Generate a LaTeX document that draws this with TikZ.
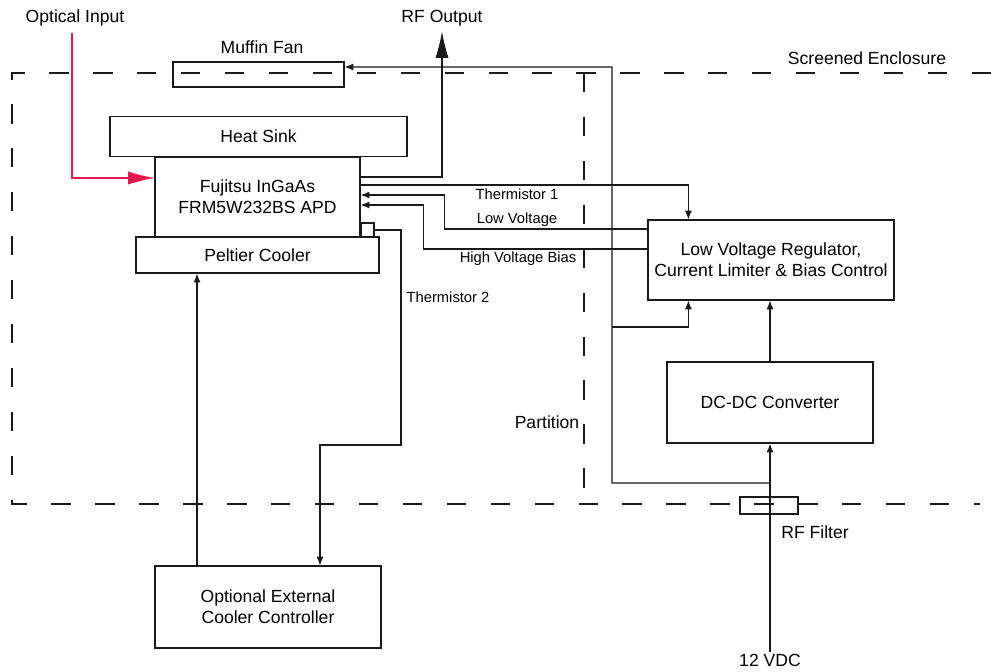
\documentclass[tikz,border=0pt]{standalone}
\usepackage{fontspec}
\setmainfont{Liberation Sans}
\usetikzlibrary{arrows.meta, positioning, calc}
\definecolor{optred}{HTML}{E5194D}
\definecolor{inkline}{HTML}{1A1A1A}
\tikzset{
  blockbox/.style={draw=inkline, line width=0.7pt, inner sep=0pt, align=center, font=\fontsize{10}{12}\selectfont},
  sig/.style={draw=inkline, line width=0.6pt, -{Latex[length=5pt, width=4pt]}},
  bigsig/.style={line width=0.6pt, -{Latex[length=15pt, width=7.5pt]}},
  lbl/.style={font=\fontsize{10}{12}\selectfont, inner sep=1pt},
  smalllbl/.style={font=\fontsize{8.4}{10}\selectfont, inner sep=1pt},
  screen/.style={draw=inkline, line width=1.7pt, dash pattern=on 11pt off 14pt},
}
\begin{document}
\begin{tikzpicture}[x=0.02cm, y=-0.02cm]
  \useasboundingbox (0,0) rectangle (991,672);

  % Screened enclosure and partition
  \draw[screen] (991,73) -- (12,73) -- (12,504) -- (980,504);
  \draw[screen] (584,73) -- (584,504);
  \node[lbl] (enclosure) at (867,58) {Screened Enclosure};
  \node[lbl] (partition) at (547,422) {Partition};

  % Blocks
  \node[blockbox, minimum width=3.42cm, minimum height=0.5cm] (fan) at (258.5,74.5) {};
  \node[lbl] (fanlbl) at (262,47) {Muffin Fan};
  \node[blockbox, minimum width=5.94cm, minimum height=0.8cm] (sink) at (258.5,136.5) {Heat Sink};
  \node[blockbox, minimum width=4.1cm, minimum height=1.6cm] (apd) at (257.5,197) {Fujitsu InGaAs\\FRM5W232BS APD};
  \node[blockbox, minimum width=4.86cm, minimum height=0.72cm] (peltier) at (257.5,255) {Peltier Cooler};
  \node[blockbox, minimum width=0.26cm, minimum height=0.28cm] (tbox) at (367.5,230) {};
  \node[blockbox, minimum width=4.52cm, minimum height=1.64cm] (ext) at (268,607) {Optional External\\Cooler Controller};
  \node[blockbox, minimum width=4.92cm, minimum height=1.6cm] (reg) at (771,260) {Low Voltage Regulator,\\Current Limiter \& Bias Control};
  \node[blockbox, minimum width=4.12cm, minimum height=1.62cm] (dcdc) at (770,402.5) {DC-DC Converter};

  % Terminals
  \node[lbl] (optin) at (75,18) {Optical Input};
  \node[lbl, inner sep=3pt] (rfout) at (442,18) {RF Output};
  \node[lbl] (vin) at (770,660) {12 VDC};
  \coordinate (oin) at (72,33);

  % Optical input and RF output
  \draw[bigsig, draw=optred] (oin) |- ([yshift=0.38cm]apd.west);
  \draw[bigsig, draw=inkline] ([yshift=0.4cm]apd.east) -| (rfout.south);

  % APD to regulator
  \draw[sig] ([yshift=0.24cm]apd.east) -| ([xshift=0.82cm]reg.north west);
  \draw[sig] ([yshift=0.62cm]reg.west) -| ([xshift=1.68cm, yshift=0.04cm]apd.east) -- ([yshift=0.04cm]apd.east);
  \draw[sig] ([yshift=0.22cm]reg.west) -| ([xshift=1.26cm, yshift=-0.16cm]apd.east) -- ([yshift=-0.16cm]apd.east);
  \node[smalllbl] (t1lbl) at (517,194) {Thermistor 1};
  \node[smalllbl] (lvlbl) at (517,220) {Low Voltage};
  \node[smalllbl] (hvlbl) at (518,259) {High Voltage Bias};

  % Cooler controller loop
  \coordinate (t2) at (401,445);
  \draw[sig] (tbox.east) -| (t2) -| ([xshift=1.04cm]ext.north);
  \node[smalllbl] (t2lbl) at (448,297) {Thermistor 2};
  \coordinate (pc) at ([xshift=-1.42cm]ext.north);
  \draw[sig] (pc) -- (pc |- peltier.south);

  % Power distribution
  \draw[sig] (vin.north) -- (dcdc.south);
  \node[blockbox, minimum width=1.16cm, minimum height=0.34cm] (filter) at (769,505.5) {};
  \node[lbl] (filterlbl) at (815,532) {RF Filter};
  \draw[sig] (dcdc.north) -- (dcdc.north |- reg.south);
  \coordinate (jb) at (770,483);
  \coordinate (jt) at (612,67);
  \draw[sig] (jb) -| (jt) -- ([yshift=0.15cm]fan.east);
  \coordinate (jm) at (612,327);
  \draw[sig] (jm) -| ([xshift=0.82cm]reg.south west);
\end{tikzpicture}
\end{document}
